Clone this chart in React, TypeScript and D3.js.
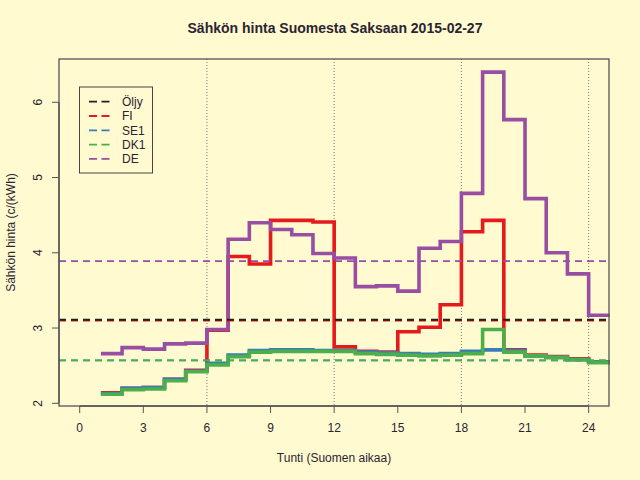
import * as d3 from "d3";

// Hourly prices (c/kWh), hour h drawn from h to h+1
const hours = [1, 2, 3, 4, 5, 6, 7, 8, 9, 10, 11, 12, 13, 14, 15, 16, 17, 18, 19, 20, 21, 22, 23, 24];
const fiPrices = [2.14, 2.2, 2.21, 2.32, 2.44, 2.97, 3.95, 3.85, 4.43, 4.43, 4.41, 2.75, 2.69, 2.68, 2.95, 3.01, 3.31, 4.28, 4.43, 2.71, 2.64, 2.62, 2.59, 2.55];
const se1Prices = [2.13, 2.2, 2.21, 2.32, 2.43, 2.53, 2.64, 2.7, 2.71, 2.71, 2.7, 2.7, 2.68, 2.67, 2.66, 2.65, 2.66, 2.69, 2.71, 2.7, 2.63, 2.61, 2.58, 2.55];
const dk1Prices = [2.12, 2.18, 2.19, 2.3, 2.42, 2.51, 2.62, 2.68, 2.69, 2.69, 2.69, 2.69, 2.66, 2.65, 2.64, 2.63, 2.64, 2.66, 2.98, 2.68, 2.63, 2.61, 2.58, 2.54];
const dePrices = [2.66, 2.74, 2.72, 2.79, 2.8, 2.98, 4.18, 4.4, 4.31, 4.24, 3.99, 3.93, 3.55, 3.56, 3.49, 4.06, 4.15, 4.79, 6.4, 5.77, 4.72, 4.0, 3.72, 3.17];

// Daily reference levels (dashed lines)
const seriesNames = ["Öljy", "FI", "SE1", "DK1", "DE"];
const seriesColors = ["#222222", "#e41a1c", "#377eb8", "#4daf4a", "#984ea3"];
const levelValues = [3.11, 3.1, 2.57, 2.57, 3.89];

const xTicks = [0, 3, 6, 9, 12, 15, 18, 21, 24];
const yTicks = [2, 3, 4, 5, 6];
const dottedHours = [6, 12, 18, 24];

const W = 640;
const H = 480;
const plot = { left: 59, right: 609, top: 59, bottom: 406 };
const font = "'Liberation Sans', Arial, Helvetica, sans-serif";
const textColor = "#2b2433";
const axisColor = "#555555";

export default function App() {
    const x = d3.scaleLinear().domain([-0.976, 24.96]).range([plot.left, plot.right]);
    const y = d3.scaleLinear().domain([1.964, 6.575]).range([plot.bottom, plot.top]);

    const step = d3
        .line<[number, number]>()
        .x((d) => x(d[0]))
        .y((d) => y(d[1]))
        .curve(d3.curveStepAfter);

    const toPoints = (vals: number[]): [number, number][] => {
        const pts = hours.map((h, i) => [h, vals[i]] as [number, number]);
        pts.push([hours[hours.length - 1] + 1, vals[vals.length - 1]]);
        return pts;
    };

    const stepSeries = [
        { vals: fiPrices, color: seriesColors[1] },
        { vals: se1Prices, color: seriesColors[2] },
        { vals: dk1Prices, color: seriesColors[3] },
        { vals: dePrices, color: seriesColors[4] },
    ];

    // draw FI dashed first so Öljy sits on top
    const dashOrder = [1, 2, 3, 4, 0];

    return (
        <svg
            width={W}
            height={H}
            style={{ position: "absolute", left: 0, top: 0, background: "#fffad0" }}
            fontFamily={font}
        >
            <rect x={0} y={0} width={W} height={H} fill="#fffad0" />

            {/* dotted guide lines */}
            {dottedHours.map((h) => (
                <line
                    key={"dot" + h}
                    x1={x(h)}
                    x2={x(h)}
                    y1={plot.top}
                    y2={plot.bottom}
                    stroke="#777"
                    strokeWidth={1}
                    strokeDasharray="1 2"
                />
            ))}

            {/* step lines */}
            {stepSeries.map((s, i) => (
                <path
                    key={"s" + i}
                    d={step(toPoints(s.vals)) || ""}
                    fill="none"
                    stroke={s.color}
                    strokeWidth={3.6}
                />
            ))}

            {/* dashed daily levels */}
            {dashOrder.map((i) => (
                <line
                    key={"lvl" + i}
                    x1={plot.left}
                    x2={plot.right}
                    y1={y(levelValues[i])}
                    y2={y(levelValues[i])}
                    stroke={seriesColors[i]}
                    strokeWidth={1.8}
                    strokeDasharray="7 5"
                />
            ))}

            {/* box */}
            <rect
                x={plot.left}
                y={plot.top}
                width={plot.right - plot.left}
                height={plot.bottom - plot.top}
                fill="none"
                stroke={axisColor}
                strokeWidth={1.3}
            />

            {/* x axis */}
            <g>
                <line x1={x(0)} x2={x(24)} y1={plot.bottom} y2={plot.bottom} stroke={axisColor} strokeWidth={1.3} />
                {xTicks.map((t) => (
                    <g key={"xt" + t}>
                        <line x1={x(t)} x2={x(t)} y1={plot.bottom} y2={plot.bottom + 7} stroke={axisColor} />
                        <text x={x(t)} y={431.5} fontSize={12} textAnchor="middle" fill={textColor}>
                            {t}
                        </text>
                    </g>
                ))}
            </g>

            {/* y axis */}
            <g>
                <line x1={plot.left} x2={plot.left} y1={y(2)} y2={y(6)} stroke={axisColor} strokeWidth={1.3} />
                {yTicks.map((t) => (
                    <g key={"yt" + t}>
                        <line x1={plot.left - 7} x2={plot.left} y1={y(t)} y2={y(t)} stroke={axisColor} />
                        <text
                            transform={`translate(42, ${y(t)}) rotate(-90)`}
                            fontSize={12}
                            textAnchor="middle"
                            fill={textColor}
                        >
                            {t}
                        </text>
                    </g>
                ))}
            </g>

            {/* titles */}
            <text x={335} y={33} fontSize={14} fontWeight="bold" textAnchor="middle" fill={textColor}>
                Sähkön hinta Suomesta Saksaan 2015-02-27
            </text>
            <text x={334} y={461.5} fontSize={12} textAnchor="middle" fill={textColor}>
                Tunti (Suomen aikaa)
            </text>
            <text
                transform={`translate(15, ${(plot.top + plot.bottom) / 2}) rotate(-90)`}
                fontSize={12}
                textAnchor="middle"
                fill={textColor}
            >
                Sähkön hinta (c/(kWh)
            </text>

            {/* legend */}
            <g>
                <rect x={79.5} y={87} width={73} height={86} fill="none" stroke="#444" strokeWidth={1} />
                {seriesNames.map((name, i) => {
                    const cy = 101.7 + i * 14.3;
                    return (
                        <g key={"lg" + name}>
                            <line
                                x1={89}
                                x2={110}
                                y1={cy}
                                y2={cy}
                                stroke={seriesColors[i]}
                                strokeWidth={1.8}
                                strokeDasharray="8 4.5"
                            />
                            <text x={122} y={cy + 4.3} fontSize={12} fill={textColor}>
                                {name}
                            </text>
                        </g>
                    );
                })}
            </g>
        </svg>
    );
}
